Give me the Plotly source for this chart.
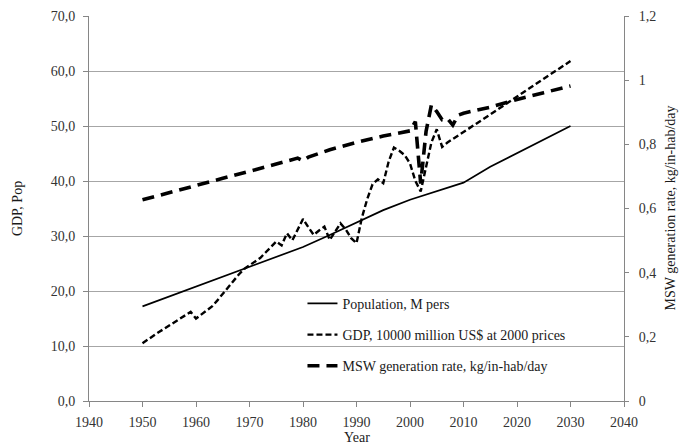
import plotly.graph_objects as go

# Population (million persons)
pop_years = [1950, 1955, 1960, 1965, 1970, 1975, 1980, 1985, 1990, 1995,
             2000, 2005, 2010, 2015, 2020, 2025, 2030]
population = [17.2, 19.0, 20.8, 22.6, 24.3, 26.1, 28.0, 30.2, 32.5, 34.7,
              36.6, 38.2, 39.7, 42.6, 45.1, 47.6, 50.0]

# GDP (10000 million US$ at 2000 prices)
gdp_years = list(range(1950, 2011)) + [2015, 2020, 2025, 2030]
gdp = [10.5, 11.2, 11.8, 12.5, 13.1, 13.7, 14.3, 15.0, 15.6, 16.2,
       15.0, 15.7, 16.4, 17.2, 18.3, 19.5, 20.6, 21.8, 23.0, 24.0,
       24.7, 25.3, 26.0, 27.0, 28.0, 29.0, 28.3, 30.5, 29.2, 31.3,
       33.1, 31.6, 30.2, 31.0, 31.7, 29.3, 30.9, 32.3, 31.2, 29.6,
       28.7, 33.3, 36.7, 39.4, 40.3, 39.6, 43.5, 46.1, 45.5, 44.7,
       43.2, 40.0, 38.1, 42.6, 47.0, 49.4, 46.2, 47.0, 47.6, 48.3,
       48.9, 52.1, 55.4, 58.6, 61.8]

# MSW generation rate (kg/in-hab/day)
msw_years = [1950, 1955, 1960, 1965, 1970, 1975, 1979, 1980, 1981, 1985,
             1990, 1995, 2000, 2001, 2002, 2003, 2004, 2005, 2006, 2007,
             2008, 2009, 2010, 2015, 2020, 2025, 2030]
msw = [0.627, 0.650, 0.672, 0.694, 0.716, 0.738, 0.757, 0.749, 0.760, 0.783,
       0.806, 0.826, 0.842, 0.871, 0.678, 0.840, 0.923, 0.902, 0.877, 0.881,
       0.860, 0.891, 0.897, 0.916, 0.940, 0.961, 0.982]

x_ticks = list(range(1940, 2041, 10))
x_tick_text = [str(v) for v in x_ticks]
left_ticks = list(range(0, 71, 10))
left_tick_text = ["0,0", "10,0", "20,0", "30,0", "40,0", "50,0", "60,0", "70,0"]
right_ticks = [0, 0.2, 0.4, 0.6, 0.8, 1.0, 1.2]
right_tick_text = ["0", "0,2", "0,4", "0,6", "0,8", "1", "1,2"]

FONT = "Liberation Serif"
AXIS_GREY = "#868686"
GRID_GREY = "#a6a6a6"
LABEL_COLOR = "#333333"

fig = go.Figure()
fig.add_trace(go.Scatter(
    x=pop_years, y=population, mode="lines", name="Population, M pers",
    legendgroup="pop", line=dict(color="black", width=1.7),
))
fig.add_trace(go.Scatter(
    x=gdp_years, y=gdp, mode="lines",
    name="GDP, 10000 million US$ at 2000 prices",
    legendgroup="gdp", line=dict(color="black", width=2.4, dash="6px,3px"),
))
fig.add_trace(go.Scatter(
    x=msw_years, y=msw, mode="lines",
    name="MSW generation rate, kg/in-hab/day", yaxis="y2",
    legendgroup="msw", line=dict(color="black", width=3.6, dash="12px,7px"),
))

tick_font = dict(family=FONT, size=14, color=LABEL_COLOR)
title_font = dict(family=FONT, size=14, color="#1a1a1a")

fig.update_layout(
    width=684, height=442,
    margin=dict(l=89, r=60, t=16, b=41, autoexpand=False),
    paper_bgcolor="white", plot_bgcolor="white",
    font=dict(family=FONT, size=14, color=LABEL_COLOR),
    showlegend=True,
    legend=dict(
        x=0.399, y=0.294, xanchor="left", yanchor="top",
        bgcolor="rgba(0,0,0,0)", borderwidth=0,
        font=dict(family=FONT, size=14, color="#1a1a1a"),
        traceorder="grouped", tracegroupgap=10,
    ),
    xaxis=dict(
        range=[1940, 2040], tickmode="array", tickvals=x_ticks,
        ticktext=x_tick_text, showgrid=False, zeroline=False,
        showline=True, linecolor=AXIS_GREY, linewidth=1,
        ticks="outside", ticklen=5, tickcolor=AXIS_GREY,
        ticklabelstandoff=3, tickfont=tick_font, automargin=False,
    ),
    yaxis=dict(
        range=[0, 70], tickmode="array", tickvals=left_ticks,
        ticktext=left_tick_text, showgrid=True, gridcolor=GRID_GREY,
        gridwidth=1, zeroline=False,
        showline=True, linecolor=AXIS_GREY, linewidth=1,
        ticks="outside", ticklen=5, tickcolor=AXIS_GREY,
        ticklabelstandoff=5, tickfont=tick_font, automargin=False,
        title=dict(text="GDP, Pop", font=title_font, standoff=24),
    ),
    yaxis2=dict(
        range=[0, 1.2], tickmode="array", tickvals=right_ticks,
        ticktext=right_tick_text, overlaying="y", side="right",
        showgrid=False, zeroline=False,
        showline=True, linecolor=AXIS_GREY, linewidth=1,
        ticks="outside", ticklen=4, tickcolor=AXIS_GREY,
        ticklabelstandoff=7, tickfont=tick_font, automargin=False,
    ),
    annotations=[
        # x-axis title, sitting at the bottom edge of the canvas
        dict(text="Year", xref="paper", yref="paper", x=0.5, y=-0.07,
             xanchor="center", yanchor="top", showarrow=False,
             font=title_font),
        # right-hand axis title
        dict(text="MSW generation rate, kg/in-hab/day", xref="paper",
             yref="paper", x=1.086, y=0.5, xanchor="center",
             yanchor="middle", textangle=-90, showarrow=False,
             font=title_font),
    ],
)

fig.write_html("out.html")
